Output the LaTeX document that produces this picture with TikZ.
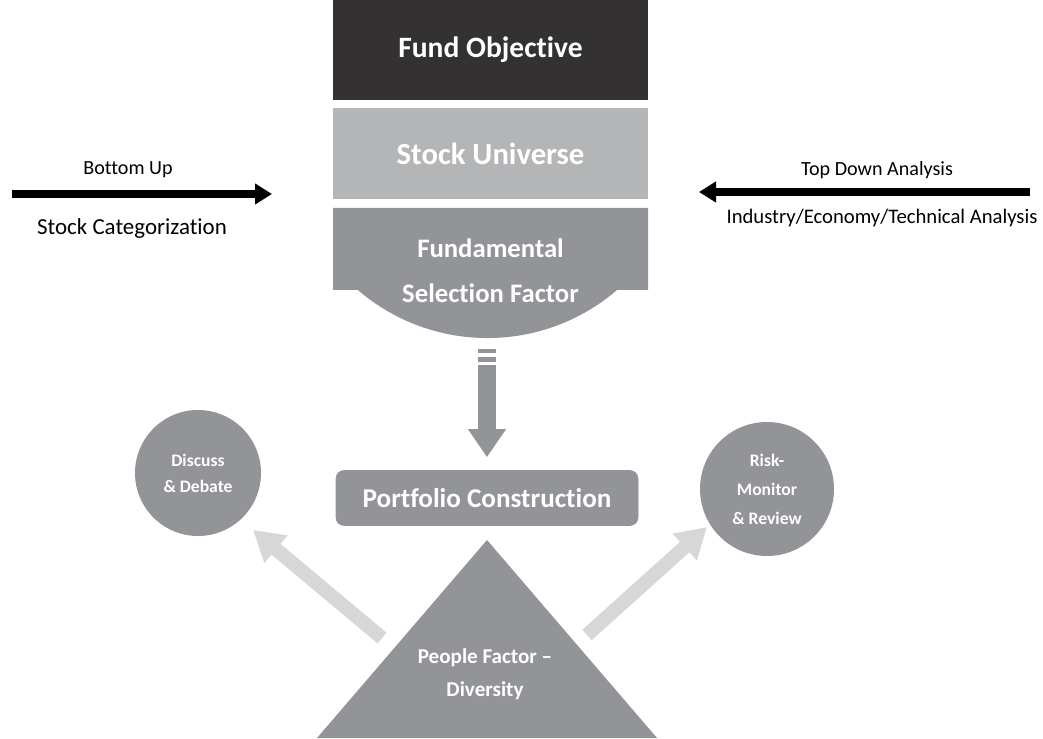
\documentclass[tikz,border=0pt]{standalone}
\usepackage{fontspec}
\setmainfont{Carlito}[Ligatures={NoCommon}]
\usetikzlibrary{arrows.meta}
\definecolor{darkbox}{HTML}{333132}
\definecolor{lightbox}{HTML}{B4B5B7}
\definecolor{midbox}{HTML}{939498}
\definecolor{palearrow}{HTML}{D6D7D9}
\begin{document}
\begin{tikzpicture}[x=0.025cm, y=0.025cm,
    boxtext/.style={text=white, font=\fontsize{21}{24}\selectfont\bfseries, align=center},
    plain/.style={font=\fontsize{14.3}{17}\selectfont},
    bubble/.style={circle, fill=midbox, text=white, align=center, font=\fontsize{12.5}{18.5}\selectfont\bfseries},
    blackarrow/.style={line width=8*0.025cm, -{Triangle[width=20*0.025cm, length=17*0.025cm]}},
    palearrow/.style={draw=palearrow, line width=14*0.025cm, -{Triangle[width=34*0.025cm, length=30*0.025cm]}}]
    \useasboundingbox (0, 0) rectangle (1043, 738);

    % stacked boxes
    \fill[darkbox] (333, 638) rectangle (648, 738);
    \node[boxtext] (fo) at (490.5, 688){Fund Objective};
    \fill[lightbox] (333, 539) rectangle (648, 630);
    \node[boxtext, font=\fontsize{21.8}{24}\selectfont\bfseries] (su) at (490.5, 584){Stock Universe};
    \fill[midbox] (333, 530) -- (648, 530) -- (648, 448) -- (617, 448)
        arc[start angle=-49.3, end angle=-130.7, radius=198.7] -- (333, 448) -- cycle;
    \node[boxtext, font=\fontsize{19}{32}\selectfont\bfseries] (fsf) at (490.5, 467){Fundamental\\Selection Factor};

    % down arrow
    \fill[midbox] (478, 385) rectangle (496, 389);
    \fill[midbox] (478, 376) rectangle (496, 381);
    \node[draw=midbox, fill=midbox, rounded corners=8*0.025cm, minimum width=302*0.025cm,
          minimum height=55*0.025cm, boxtext, font=\fontsize{19.3}{22}\selectfont\bfseries]
          (pc) at (487, 240){Portfolio Construction};
    \draw[midbox, line width=18*0.025cm, -{Triangle[width=36*0.025cm, length=28*0.025cm]}]
        (487, 373) -- ([yshift=13*0.025cm]pc.north);

    % people factor
    \fill[midbox] (487, 198) -- (657, 0) -- (317, 0) -- cycle;
    \node[boxtext, font=\fontsize{15}{23.5}\selectfont\bfseries] (pf) at (485, 64){People Factor --\\Diversity};

    % side circles
    \node[bubble, minimum size=126*0.025cm] (dd) at (198, 265){Discuss\\\& Debate};
    \node[bubble, minimum size=134*0.025cm, font=\fontsize{12.5}{20.6}\selectfont\bfseries] (rm) at (767, 249){Risk-\\Monitor\\\& Review};
    \coordinate (lt) at (382, 100);
    \coordinate (rt) at (587, 103);
    \draw[palearrow] (lt) -- (253, 208);
    \draw[palearrow] (rt) -- (707, 211);

    % bottom up / top down
    \coordinate (bu) at (12, 544);
    \coordinate (bt) at (272, 544);
    \draw[blackarrow] (bu) -- (bt);
    \node[plain] (bul) at (128, 568){Bottom Up};
    \node[plain, font=\fontsize{16.3}{19}\selectfont] (sc) at (132, 509){Stock Categorization};
    \coordinate (td) at (1030, 546);
    \coordinate (tt) at (699, 546);
    \draw[blackarrow] (td) -- (tt);
    \node[plain] (tdl) at (877, 568){Top Down Analysis};
    \node[plain, font=\fontsize{14.7}{17}\selectfont] (iet) at (882, 520){Industry/Economy/Technical Analysis};
\end{tikzpicture}
\end{document}
